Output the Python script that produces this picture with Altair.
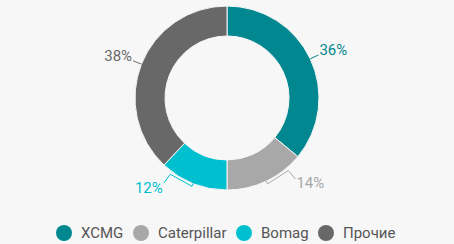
import altair as alt
import pandas as pd

# ---- data ----
brands = ["XCMG", "Caterpillar", "Bomag", "Прочие"]
shares = [36, 14, 12, 38]
colors = ["#00878f", "#a8a8a8", "#00c0d0", "#686868"]

df = pd.DataFrame({"brand": brands, "share": shares, "order": list(range(len(brands)))})

# ---- layout constants ----
W, H = 454, 244
CX, CY = 227, 98
R_OUT, R_IN = 92, 62
FONT = "Liberation Sans Narrow, Roboto, sans-serif"

color = alt.Color(
    "brand:N",
    scale=alt.Scale(domain=brands, range=colors),
    legend=alt.Legend(
        title=None,
        orient="none",
        legendX=56,
        legendY=225,
        direction="horizontal",
        symbolType="circle",
        symbolSize=256,
        symbolStrokeWidth=0,
        symbolOpacity=1,
        labelFontSize=15,
        labelFont=FONT,
        labelColor="#555555",
        labelOffset=9,
        columnPadding=9,
    ),
)
color_nl = alt.Color("brand:N", scale=alt.Scale(domain=brands, range=colors), legend=None)

base = alt.Chart(df)

arcs = base.mark_arc(outerRadius=R_OUT, innerRadius=R_IN, stroke="#f7f7f7", strokeWidth=1).encode(
    theta=alt.Theta("share:Q", stack=True),
    order=alt.Order("order:Q"),
    color=color,
    x=alt.value(CX),
    y=alt.value(CY),
)

geo = (
    base.transform_joinaggregate(total="sum(share)")
    .transform_window(cum="sum(share)", sort=[alt.SortField("order")])
    .transform_calculate(
        mid="(datum.cum - datum.share / 2) / datum.total * 2 * PI",
        small="datum.share / datum.total < 0.2",
    )
    .transform_calculate(
        la="datum.small ? datum.mid + (datum.mid < PI ? -1 : 1) * 15 * PI / 180 : datum.mid",
        r2="datum.small ? 106 : 101",
    )
)

lines = (
    geo.transform_calculate(pts="[0, 1, 2, 3]")
    .transform_flatten(["pts"])
    .transform_calculate(
        ang="datum.pts < 2 ? datum.mid : datum.la",
        rr=f"datum.pts == 0 ? {R_OUT} : datum.pts == 3 ? datum.r2 : {R_OUT + 3}",
    )
    .transform_calculate(
        px=f"{CX} + datum.rr * sin(datum.ang)",
        py=f"{CY} - datum.rr * cos(datum.ang)",
    )
    .mark_line(strokeWidth=1)
    .encode(
        x=alt.X("px:Q", scale=None),
        y=alt.Y("py:Q", scale=None),
        detail="brand:N",
        order="pts:Q",
        color=color_nl,
    )
)

labels_base = geo.transform_calculate(
    px=f"{CX} + datum.r2 * sin(datum.la)",
    py=f"{CY} - datum.r2 * cos(datum.la) + (cos(datum.la) < 0 ? 9.5 : 0.5)",
    txt="datum.share + '%'",
)

lab_enc = dict(
    x=alt.X("px:Q", scale=None),
    y=alt.Y("py:Q", scale=None),
    text="txt:N",
    color=color_nl,
)

labels_r = labels_base.transform_filter("sin(datum.la) >= 0").mark_text(
    align="left", baseline="alphabetic", dx=1, fontSize=15, font=FONT
).encode(**lab_enc)
labels_l = labels_base.transform_filter("sin(datum.la) < 0").mark_text(
    align="right", baseline="alphabetic", dx=-1, fontSize=15, font=FONT
).encode(**lab_enc)

chart = (
    alt.layer(arcs, lines, labels_r, labels_l)
    .properties(width=W, height=H, background="#f7f7f7", padding=0, autosize="none")
    .configure_view(stroke=None)
)

chart.save("out.html", embed_options={"renderer": "svg", "actions": False})
